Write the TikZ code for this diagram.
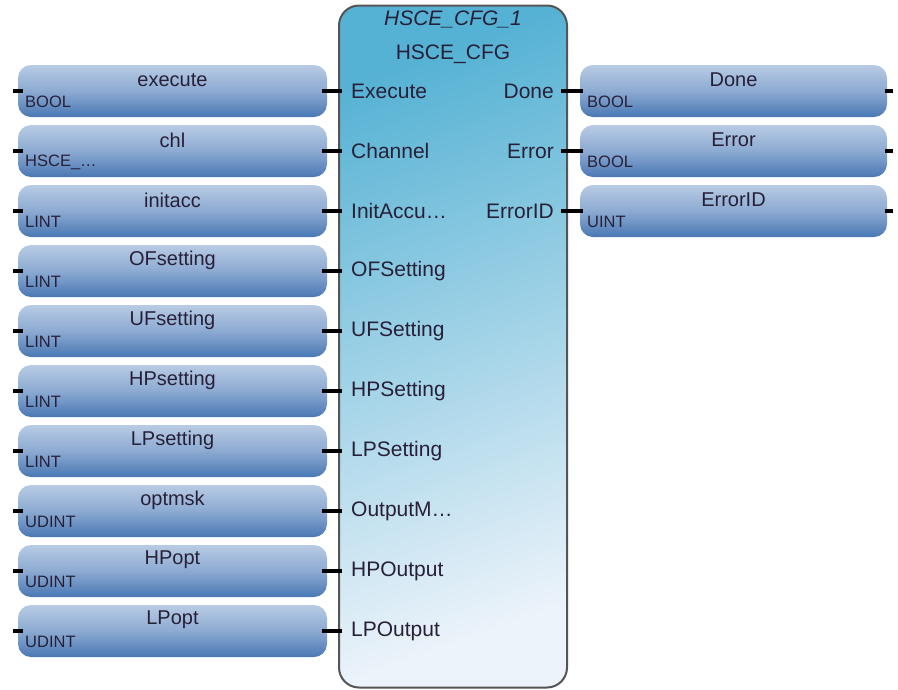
\documentclass[tikz,border=0pt]{standalone}
\usepackage{fontspec}
\setmainfont{Liberation Sans}
\definecolor{boxtop}{RGB}{184,203,228}
\definecolor{boxmid}{RGB}{140,170,210}
\definecolor{boxbot}{RGB}{74,120,180}
\definecolor{blktop}{RGB}{86,178,212}
\definecolor{blkbot}{RGB}{236,243,250}
\definecolor{blkedge}{RGB}{85,85,85}
\definecolor{txt}{RGB}{40,32,56}
\begin{document}
\begin{tikzpicture}[x=1pt,y=-1pt,
  varbox/.style={minimum width=309pt,minimum height=52pt,rounded corners=13pt,inner sep=0pt,
    top color=boxtop,bottom color=boxbot,middle color=boxmid,draw=none},
  vname/.style={font=\fontsize{20}{22}\selectfont,text=txt,inner sep=0pt},
  vtype/.style={font=\fontsize{16.5}{18}\selectfont,text=txt,inner sep=0pt,anchor=west},
  pinlbl/.style={font=\fontsize{21}{23}\selectfont,text=txt,inner sep=0pt},
  pin/.style={line width=4pt,black},
  fblock/.style={minimum width=228pt,minimum height=682pt,rounded corners=20pt,inner sep=0pt,
    draw=blkedge,line width=2pt,top color=blktop,bottom color=blkbot,shading angle=20}
]
\useasboundingbox (0,0) rectangle (898,689);
\node[fblock] (blk) at (453,346.5) {};
\node[pinlbl,font=\fontsize{21}{23}\selectfont\itshape] (inst) at (453,19) {HSCE\_CFG\_1};
\node[pinlbl] (ftype) at (453,54) {HSCE\_CFG};
% inputs
\foreach \i/\v/\t/\p in {0/execute/BOOL/Execute,1/chl/HSCE\_…/Channel,2/initacc/LINT/InitAccu…,
  3/OFsetting/LINT/OFSetting,4/UFsetting/LINT/UFSetting,5/HPsetting/LINT/HPSetting,
  6/LPsetting/LINT/LPSetting,7/optmsk/UDINT/OutputM…,8/HPopt/UDINT/HPOutput,9/LPopt/UDINT/LPOutput}{
  \node[varbox] (in\i) at (172.5,{91+60*\i}) {};
  \node[vname] (inn\i) at (172.5,{80+60*\i}) {\v};
  \node[vtype] (int\i) at (25,{102+60*\i}) {\t};
  \node[pinlbl,anchor=west] (inp\i) at (351,{91+60*\i}) {\p};
  \draw[pin] ([xshift=-5pt]in\i.east) -- (inp\i.west -| blk.west) -- ++(4,0);
  \draw[pin] ([xshift=-5pt]in\i.west) -- ++(10,0);
}
% outputs
\foreach \i/\v/\t in {0/Done/BOOL,1/Error/BOOL,2/ErrorID/UINT}{
  \node[varbox,minimum width=307pt] (out\i) at (733.5,{91+60*\i}) {};
  \node[vname] (outn\i) at (733.5,{80+60*\i}) {\v};
  \node[vtype] (outt\i) at (587,{102+60*\i}) {\t};
  \node[pinlbl,anchor=east] (outp\i) at (554,{91+60*\i}) {\v};
  \draw[pin] ([xshift=-7pt]outp\i.east -| blk.east) -- ([xshift=3pt]out\i.west);
  \draw[pin] ([xshift=-2pt]out\i.east) -- ++(8,0);
}
\end{tikzpicture}
\end{document}
